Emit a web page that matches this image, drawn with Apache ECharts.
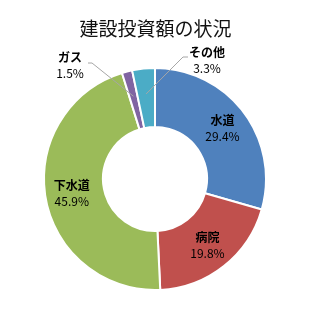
<!DOCTYPE html>
<html><head><meta charset="utf-8">
<script src="https://cdn.jsdelivr.net/npm/echarts@6/dist/echarts.min.js"></script>
<style>html,body{margin:0;padding:0;background:#fff}#c{width:311px;height:320px}</style>
</head><body><div id="c"></div>
<script>
const titleText = '建設投資額の状況';
const categories = ['水道', '病院', '下水道', 'ガス', 'その他'];
const values = [29.4, 19.8, 45.9, 1.5, 3.3];
const colors = ['#4F81BD', '#C0504D', '#9BBB59', '#8064A2', '#4BACC6'];

const CX = 155, CY = 179, R0 = 52, R1 = 111;
const total = values.reduce((a, b) => a + b, 0);
function midPoint(i, r) {
  let before = 0;
  for (let k = 0; k < i; k++) before += values[k];
  const a = (before + values[i] / 2) / total * 2 * Math.PI;
  return [CX + r * Math.sin(a), CY - r * Math.cos(a)];
}
const LR = (R0 + R1) / 2 + 4;

const chart = echarts.init(document.getElementById('c'));
const font = '"Noto Sans CJK JP", "Noto Sans", sans-serif';
chart.setOption({
  animation: false,
  title: {
    text: titleText, left: 'center', top: 14,
    textStyle: { fontFamily: font, fontSize: 19, fontWeight: 'normal', color: '#111' }
  },
  graphic: {
    zlevel: 5, z: 100,
    elements: [
      { type: 'polyline', zlevel: 5, z: 100, shape: { points: [[88, 63], [92, 63], midPoint(3, LR)] },
        style: { stroke: '#A6A6A6', lineWidth: 1, fill: null } },
      { type: 'polyline', zlevel: 5, z: 100, shape: { points: [[188, 57], [183, 57], midPoint(4, LR)] },
        style: { stroke: '#A6A6A6', lineWidth: 1, fill: null } }
    ]
  },
  series: [{
    type: 'pie',
    center: [CX, CY],
    radius: [R0, R1],
    startAngle: 90,
    clockwise: true,
    avoidLabelOverlap: false,
    itemStyle: { borderColor: '#fff', borderWidth: 2 },
    label: {
      position: 'inside',
      formatter: '{n|{b}}\n{p|{c}%}',
      fontFamily: font, fontSize: 12, lineHeight: 16, color: '#000',
      rich: {
        n: { fontFamily: font, fontSize: 12, lineHeight: 16, fontWeight: 'bold', color: '#000' },
        p: { fontFamily: font, fontSize: 12, lineHeight: 16, fontWeight: 'normal', color: '#000' }
      }
    },
    labelLine: { show: false },
    labelLayout: function (p) {
      if (p.dataIndex === 3) return { x: 70, y: 65, align: 'center', verticalAlign: 'middle' };
      if (p.dataIndex === 4) return { x: 207, y: 60, align: 'center', verticalAlign: 'middle' };
      return {};
    },
    data: categories.map((n, i) => {
      const d = { name: n, value: values[i], itemStyle: { color: colors[i] } };
      if (i >= 3) d.label = { position: 'outside', align: 'center' };
      return d;
    })
  }]
});
</script></body></html>
